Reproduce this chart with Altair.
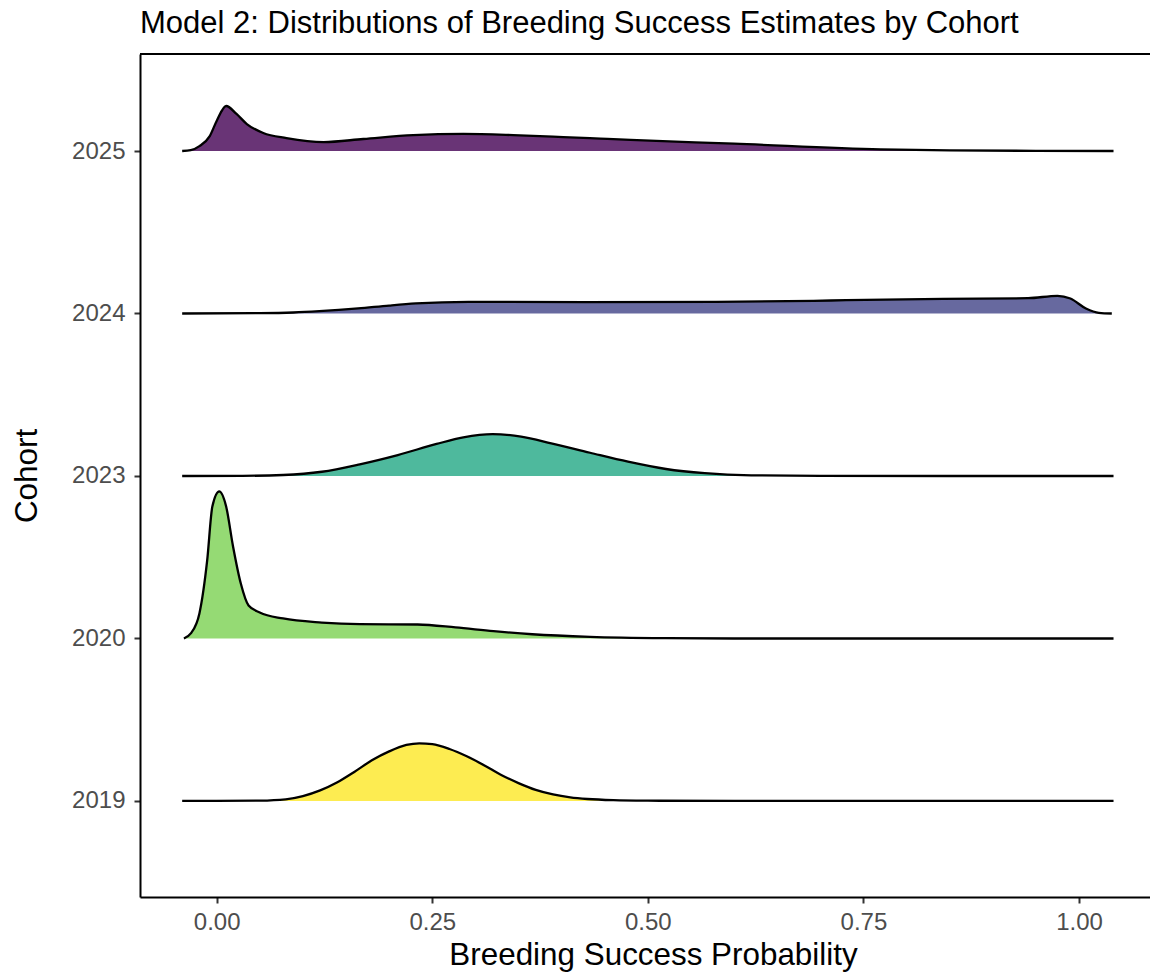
import altair as alt
import pandas as pd

# ---------------- data ----------------
cohorts = ["2019", "2020", "2023", "2024", "2025"]
colors = ["#FDE725", "#7AD151", "#22A884", "#414487", "#440154"]

x_2019 = [-0.04, 0.0, 0.05, 0.08, 0.10, 0.12, 0.14, 0.16, 0.18, 0.20, 0.22, 0.235, 0.25,
          0.27, 0.29, 0.31, 0.33, 0.35, 0.37, 0.39, 0.41, 0.43, 0.46, 0.50, 0.60, 0.80, 1.04]
d_2019 = [0.0, 0.0, 0.02, 0.10, 0.30, 0.65, 1.15, 1.80, 2.50, 3.05, 3.45, 3.55, 3.50,
          3.20, 2.75, 2.20, 1.60, 1.10, 0.68, 0.40, 0.22, 0.12, 0.05, 0.02, 0.0, 0.0, 0.0]

x_2020 = [-0.038, -0.03, -0.02, -0.011, -0.005, 0.003, 0.011, 0.019, 0.028, 0.037, 0.05,
          0.077, 0.122, 0.166, 0.233, 0.277, 0.321, 0.366, 0.433, 0.52, 0.6, 0.8, 1.04]
d_2020 = [0.0, 0.31, 1.54, 4.80, 8.12, 9.05, 8.12, 5.66, 3.38, 2.03, 1.60,
          1.23, 0.98, 0.88, 0.86, 0.68, 0.45, 0.26, 0.10, 0.02, 0.0, 0.0, 0.0]

x_2023 = [-0.04, 0.03, 0.077, 0.122, 0.166, 0.21, 0.255, 0.286, 0.32, 0.353, 0.388,
          0.433, 0.477, 0.521, 0.566, 0.62, 0.70, 0.85, 1.04]
d_2023 = [0.0, 0.01, 0.06, 0.26, 0.72, 1.29, 1.97, 2.38, 2.58, 2.42, 2.01,
          1.43, 0.88, 0.43, 0.17, 0.04, 0.01, 0.0, 0.0]

x_2024 = [-0.04, 0.05, 0.089, 0.119, 0.164, 0.20, 0.231, 0.292, 0.427, 0.579, 0.692,
          0.73, 0.842, 0.941, 0.975, 0.99, 1.008, 1.023, 1.038]
d_2024 = [0.0, 0.02, 0.06, 0.14, 0.31, 0.49, 0.62, 0.72, 0.70, 0.72, 0.78,
          0.82, 0.90, 0.94, 1.09, 0.92, 0.31, 0.04, 0.0]

x_2025 = [-0.04, -0.03, -0.02, -0.008, 0.0, 0.011, 0.023, 0.035, 0.054, 0.081, 0.124,
          0.17, 0.228, 0.286, 0.344, 0.402, 0.445, 0.48, 0.60, 0.77, 0.85, 0.95, 1.04]
d_2025 = [0.0, 0.05, 0.30, 0.92, 1.85, 2.77, 2.28, 1.66, 1.11, 0.80, 0.55,
          0.74, 0.98, 1.05, 0.98, 0.86, 0.76, 0.68, 0.45, 0.10, 0.04, 0.01, 0.0]

x_series = [x_2019, x_2020, x_2023, x_2024, x_2025]
d_series = [d_2019, d_2020, d_2023, d_2024, d_2025]

rows = []
for i, (c, xs, ds) in enumerate(zip(cohorts, x_series, d_series)):
    for xv, dv in zip(xs, ds):
        rows.append({"cohort": c, "row": i + 1, "x": xv, "density": dv})
df = pd.DataFrame(rows)

RIDGE_SCALE = 0.1  # density -> row units
FONT = "Liberation Sans"
W, H = 1010, 843

label_expr = "[" + ",".join("'%s'" % c for c in cohorts) + "][datum.value - 1]"

xenc = alt.X(
    "x:Q",
    scale=alt.Scale(domain=[-0.0889, 1.0823], nice=False, zero=False),
    axis=alt.Axis(values=[0, 0.25, 0.5, 0.75, 1.0], format=".2f",
                  title="Breeding Success Probability",
                  labelPadding=7, titlePadding=5, titleX=513, titleAlign="center"),
)
yenc = alt.Y(
    "top:Q",
    scale=alt.Scale(domain=[0.409, 5.597], nice=False, zero=False),
    axis=alt.Axis(values=[1, 2, 3, 4, 5], labelExpr=label_expr, title="Cohort",
                  labelPadding=9, titlePadding=28),
)

base = alt.Chart(df).transform_calculate(
    top="datum.row + datum.density * %f" % RIDGE_SCALE
)

area = base.mark_area(interpolate="monotone", fillOpacity=0.8).encode(
    x=xenc,
    y=yenc,
    y2="row:Q",
    color=alt.Color("cohort:N", scale=alt.Scale(domain=cohorts, range=colors), legend=None),
)

line = base.mark_line(interpolate="monotone", color="black", strokeWidth=2.3).encode(
    x=xenc,
    y=yenc,
    detail="cohort:N",
)

top_border = alt.Chart(pd.DataFrame({"a": [0]})).mark_rule(
    color="black", strokeWidth=2
).encode(x=alt.value(0), x2=alt.value(W), y=alt.value(0))

chart = alt.layer(area, line, top_border).properties(
    width=W,
    height=H,
    autosize=alt.AutoSizeParams(type="none"),
    padding={"left": 140, "top": 54, "right": 0, "bottom": 75},
    title=alt.TitleParams(
        "Model 2: Distributions of Breeding Success Estimates by Cohort",
        anchor="start", frame="group", font=FONT, fontSize=31,
        fontWeight="normal", color="black", baseline="alphabetic", offset=21, dy=32,
    ),
).configure_view(
    strokeWidth=0
).configure_axis(
    labelFont=FONT, titleFont=FONT, labelFontSize=24, titleFontSize=31.4,
    labelColor="#4D4D4D", titleColor="black", titleFontWeight="normal",
    grid=False, domainColor="black", domainWidth=2,
    tickColor="#333333", tickWidth=2, tickSize=6,
)

chart.save("out.html", embed_options={"renderer": "svg", "actions": False})
